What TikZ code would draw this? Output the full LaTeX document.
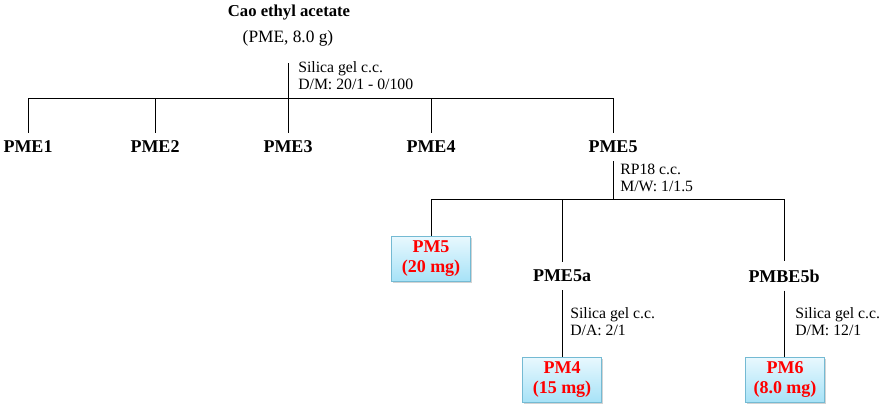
\documentclass[tikz,border=0pt]{standalone}
\usepackage{fontspec}
\setmainfont{Liberation Serif}
\usetikzlibrary{positioning,shadows}
\definecolor{boxtop}{HTML}{E8F8FE}
\definecolor{boxbot}{HTML}{A6E2F7}
\definecolor{boxline}{HTML}{74BAD3}
\definecolor{pmred}{HTML}{FF0000}

\begin{document}
\begin{tikzpicture}[x=0.75pt,y=-0.75pt,
        ln/.style={line width=0.6pt},
        fr/.style={font=\fontsize{13.5}{15}\selectfont\bfseries,inner xsep=1pt,inner ysep=6pt},
        cc/.style={font=\fontsize{11.8}{12.8}\selectfont,align=left,anchor=north west,inner sep=0pt},
        pm/.style={draw=boxline,line width=0.8pt,top color=boxtop,bottom color=boxbot,
                   text=pmred,font=\fontsize{13.5}{15}\selectfont\bfseries,align=center,
                   minimum width=59pt,minimum height=34pt,inner sep=1pt,
                   drop shadow={opacity=0.35,shadow xshift=1.2pt,shadow yshift=-1.2pt}}]
      \useasboundingbox (0,0) rectangle (894,404);
      % starting material
      \node[font=\fontsize{12.5}{14}\selectfont\bfseries] (root) at (289,13) {Cao ethyl acetate};
      \node[font=\fontsize{13}{14}\selectfont] (rootq) at (288,38) {(PME, 8.0 g)};
      \coordinate (s0) at (288,63);
      \coordinate (bar) at (288,98);
      \node[cc] (sil0) at (298,61) {Silica gel c.c.\\D/M: 20/1 - 0/100};
      % first column fractions
      \node[fr] (pme1) at (28,147) {PME1};
      \node[fr] (pme2) at (155,147) {PME2};
      \node[fr] (pme3) at (288,147) {PME3};
      \node[fr] (pme4) at (431,147) {PME4};
      \node[fr] (pme5) at (613,147) {PME5};
      \draw[ln] (s0) -- (pme3);
      \foreach \n in {pme1,pme2,pme4,pme5}
        \draw[ln] (bar) -| (\n.north);
      % RP18 on PME5
      \coordinate (bar5) at (613,199);
      \node[cc] (rp) at (620,164) {RP18 c.c.\\M/W: 1/1.5};
      \node[pm] (pm5) at (431,259) {PM5\\(20 mg)};
      \node[fr] (pme5a) at (562,276) {PME5a};
      \node[fr] (pmbe5b) at (784,276) {PMBE5b};
      \draw[ln] (pme5) -- (bar5);
      \foreach \n in {pm5,pme5a,pmbe5b}
        \draw[ln] (bar5) -| (\n.north);
      % last columns
      \node[pm] (pm4) at (562,380) {PM4\\(15 mg)};
      \node[pm] (pm6) at (785,380) {PM6\\(8.0 mg)};
      \node[cc] (sil1) at (570,307) {Silica gel c.c.\\D/A: 2/1};
      \node[cc] (sil2) at (795,307) {Silica gel c.c.\\D/M: 12/1};
      \draw[ln] (pme5a) -- (pm4);
      \draw[ln] (pmbe5b) -- (pm6.north -| pmbe5b);
    \end{tikzpicture}
\end{document}
